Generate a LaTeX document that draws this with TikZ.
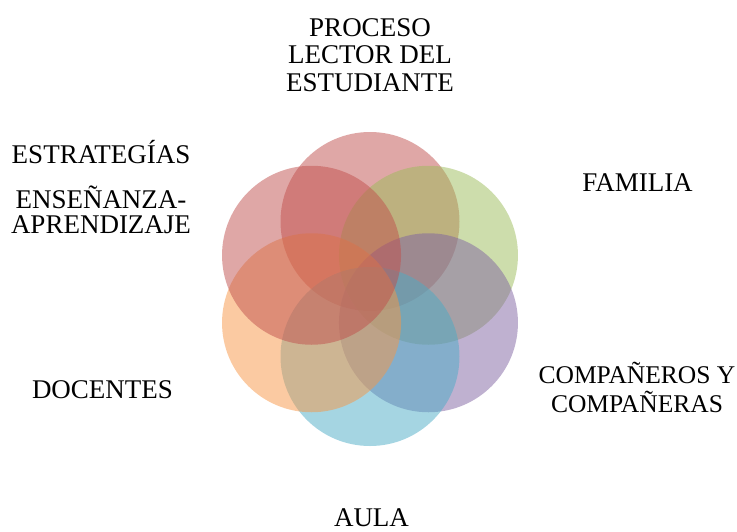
\documentclass[tikz,border=0pt]{standalone}
\usepackage{fontspec}
\setmainfont{Liberation Serif}
\usetikzlibrary{calc,positioning,shapes}

\definecolor{petalred}{HTML}{C0504D}
\definecolor{petalgreen}{HTML}{9BBB59}
\definecolor{petalpurple}{HTML}{8064A2}
\definecolor{petalaqua}{HTML}{4BACC6}
\definecolor{petalorange}{HTML}{F79646}

\tikzset{
  petal/.style={circle,minimum size=179pt,inner sep=0pt,fill opacity=.5},
  label_text/.style={font=\fontsize{27}{27.3}\selectfont,align=center,anchor=base,inner sep=0pt}
}

\begin{document}
\begin{tikzpicture}[x=1pt,y=-1pt]

  \useasboundingbox (0,0) rectangle (737,531);

  \coordinate (hub) at (370,289);

  % petals, clockwise from the top
  \foreach \ang/\col [count=\n] in {90/petalred,30/petalgreen,-30/petalpurple,%
      -90/petalaqua,-150/petalorange,150/petalred}{
    \node [petal,fill=\col] at ($(hub)+(\ang:67.5pt)$) (petal_\n) {};
  }

  % base = baseline of the last line
  \node [label_text] at (370,91) (proceso) {PROCESO\\LECTOR DEL\\ESTUDIANTE};
  \node [label_text] at (637.5,191) (familia) {FAMILIA};
  \node [label_text,font=\fontsize{25.5}{27.3}\selectfont] at (637,412) (companeros) {COMPAÑEROS Y\\[1pt]COMPAÑERAS};
  \node [label_text] at (371.5,526.5) (aula) {AULA};
  \node [label_text] at (102.5,398) (docentes) {DOCENTES};
  \node [label_text] at (101,233) (estrategias) {ESTRATEGÍAS\\[17.7pt]ENSEÑANZA-\\[-2.3pt]APRENDIZAJE};

\end{tikzpicture}
\end{document}
